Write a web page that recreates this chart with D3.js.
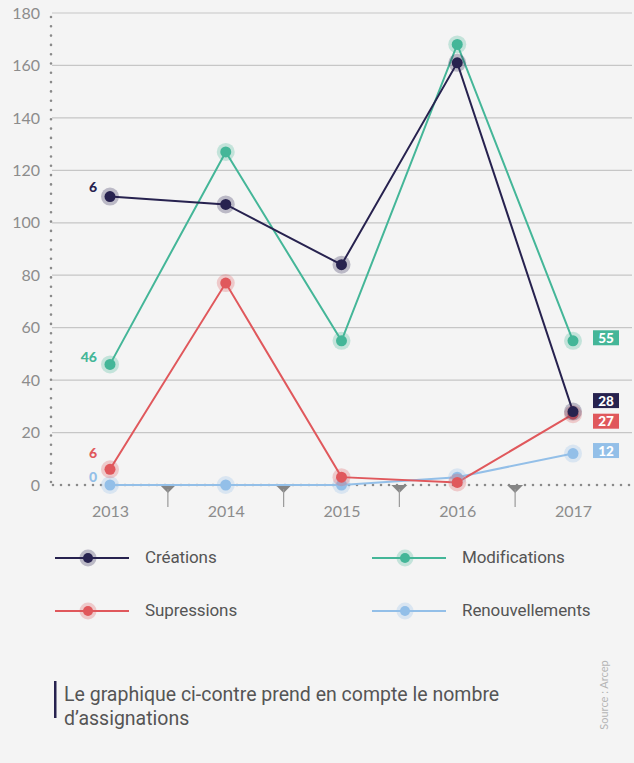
<!DOCTYPE html>
<html><head><meta charset="utf-8">
<script src="https://cdn.jsdelivr.net/npm/d3@7"></script>
<style>
html,body{margin:0;padding:0;background:#f4f4f4;}
svg{display:block;}
</style></head>
<body>
<svg id="c" width="634" height="763"></svg>
<script>
const years = ["2013","2014","2015","2016","2017"];
const seriesNames = ["Créations","Modifications","Supressions","Renouvellements"];
const creations = [110, 107, 84, 161, 28];
const modifications = [46, 127, 55, 168, 55];
const supressions = [6, 77, 3, 1, 27];
const renouvellements = [0, 0, 0, 3, 12];
const startLabels = ["6","46","6","0"];
const endLabels = ["28","55","27","12"];
const yTicks = [0,20,40,60,80,100,120,140,160,180];
const colors = ["#27224f","#44b698","#e0585c","#93bfe8"];
const footnote = ["Le graphique ci-contre prend en compte le nombre","d’assignations"];
const source = "Source : Arcep";

const values = [creations, modifications, supressions, renouvellements];
const svg = d3.select("#c");
const font = "Lato, 'Noto Sans', sans-serif";
const condFont = "Roboto, 'Liberation Sans Narrow', sans-serif";

const x = d3.scalePoint().domain(years).range([110, 573]);
const y = d3.scaleLinear().domain([0,180]).range([485, 13]);

// grid
svg.append("g").selectAll("line").data(yTicks.filter(d=>d>0)).join("line")
  .attr("x1",52).attr("x2",632).attr("y1",d=>y(d)).attr("y2",d=>y(d))
  .attr("stroke","#c6c6c6").attr("stroke-width",1.2);

// y axis
const yAxis = d3.axisLeft(y).tickValues(yTicks).tickSize(0).tickPadding(11);
const gy = svg.append("g").attr("transform","translate(51,0)").call(yAxis);
gy.select(".domain").remove();
gy.selectAll("text").attr("font-family",font).attr("font-size",16).attr("fill","#8c8c8c");
svg.append("line").attr("x1",51).attr("x2",51).attr("y1",y(180)+4).attr("y2",y(0))
  .attr("stroke","#8a8a8a").attr("stroke-width",2.6).attr("stroke-dasharray","0 9.3").attr("stroke-linecap","round");

// x axis
const xAxis = d3.axisBottom(x).tickSize(0).tickPadding(21);
const gx = svg.append("g").attr("transform",`translate(0,${y(0)})`).call(xAxis);
gx.select(".domain").remove();
gx.selectAll("text").attr("font-family",font).attr("font-size",16).attr("fill","#8c8c8c");
svg.append("line").attr("x1",53).attr("x2",632).attr("y1",y(0)).attr("y2",y(0))
  .attr("stroke","#8a8a8a").attr("stroke-width",2.6).attr("stroke-dasharray","0 8").attr("stroke-linecap","round");
// between-year markers
const mids = years.slice(0,-1).map((d,i)=> (x(d)+x(years[i+1]))/2);
const mk = svg.append("g").selectAll("g").data(mids).join("g").attr("transform",d=>`translate(${d},${y(0)})`);
mk.append("path").attr("d","M-8,0 L8,0 L0,8 Z").attr("fill","#858585");
mk.append("line").attr("x1",0).attr("x2",0).attr("y1",4).attr("y2",22).attr("stroke","#9a9a9a").attr("stroke-width",1.2);

// lines
const line = d3.line().x((d,i)=>x(years[i])).y(d=>y(d));
const order = [3,2,1,0];
order.forEach(s=>{
  svg.append("path").attr("d",line(values[s])).attr("fill","none")
    .attr("stroke",colors[s]).attr("stroke-width",2);
});
order.forEach(s=>{
  const g = svg.append("g");
  g.selectAll("circle.h").data(values[s]).join("circle")
    .attr("cx",(d,i)=>x(years[i])).attr("cy",d=>y(d)).attr("r",9)
    .attr("fill",colors[s]).attr("opacity",0.28);
  g.selectAll("circle.d").data(values[s]).join("circle")
    .attr("cx",(d,i)=>x(years[i])).attr("cy",d=>y(d)).attr("r",5.5)
    .attr("fill",colors[s]);
});

// start labels
const startDy = [-5,-2,-11,-3];
startLabels.forEach((t,s)=>{
  svg.append("text").attr("x",97).attr("y",y(values[s][0])+startDy[s])
    .attr("text-anchor","end").attr("font-family",font).attr("font-weight",900)
    .attr("font-size",14).attr("fill",colors[s]).text(t);
});

// end labels
const endDy = [-11,-3,7,-3];
endLabels.forEach((t,s)=>{
  const cy = y(values[s][4]) + endDy[s];
  svg.append("rect").attr("x",593).attr("y",cy-7.5).attr("width",26).attr("height",15).attr("fill",colors[s]);
  svg.append("text").attr("x",606).attr("y",cy+5).attr("text-anchor","middle")
    .attr("font-family",font).attr("font-weight",900).attr("font-size",13.5).attr("fill","#fff").text(t);
});

// legend
const legPos = [[55,558],[372,558],[55,611],[372,611]];
seriesNames.forEach((n,s)=>{
  const [lx,ly] = legPos[s];
  svg.append("line").attr("x1",lx).attr("x2",lx+74).attr("y1",ly).attr("y2",ly).attr("stroke",colors[s]).attr("stroke-width",2);
  svg.append("circle").attr("cx",lx+33).attr("cy",ly).attr("r",8.5).attr("fill",colors[s]).attr("opacity",0.28);
  svg.append("circle").attr("cx",lx+33).attr("cy",ly).attr("r",5).attr("fill",colors[s]);
  svg.append("text").attr("x",lx+90).attr("y",ly+5).attr("font-family",condFont).attr("font-size",17).attr("fill","#555").attr("letter-spacing",-0.1).text(n);
});

// footnote
svg.append("rect").attr("x",54).attr("y",681).attr("width",2.5).attr("height",37).attr("fill","#27224f");
footnote.forEach((t,i)=>{
  svg.append("text").attr("x",64).attr("y",701+i*24).attr("font-family",condFont).attr("font-size",19.5).attr("fill","#555").text(t);
});
svg.append("text").attr("transform","translate(608,695) rotate(-90)").attr("text-anchor","middle")
  .attr("font-family",font).attr("font-size",11).attr("fill","#b5b5b5").text(source);
</script>
</body></html>
